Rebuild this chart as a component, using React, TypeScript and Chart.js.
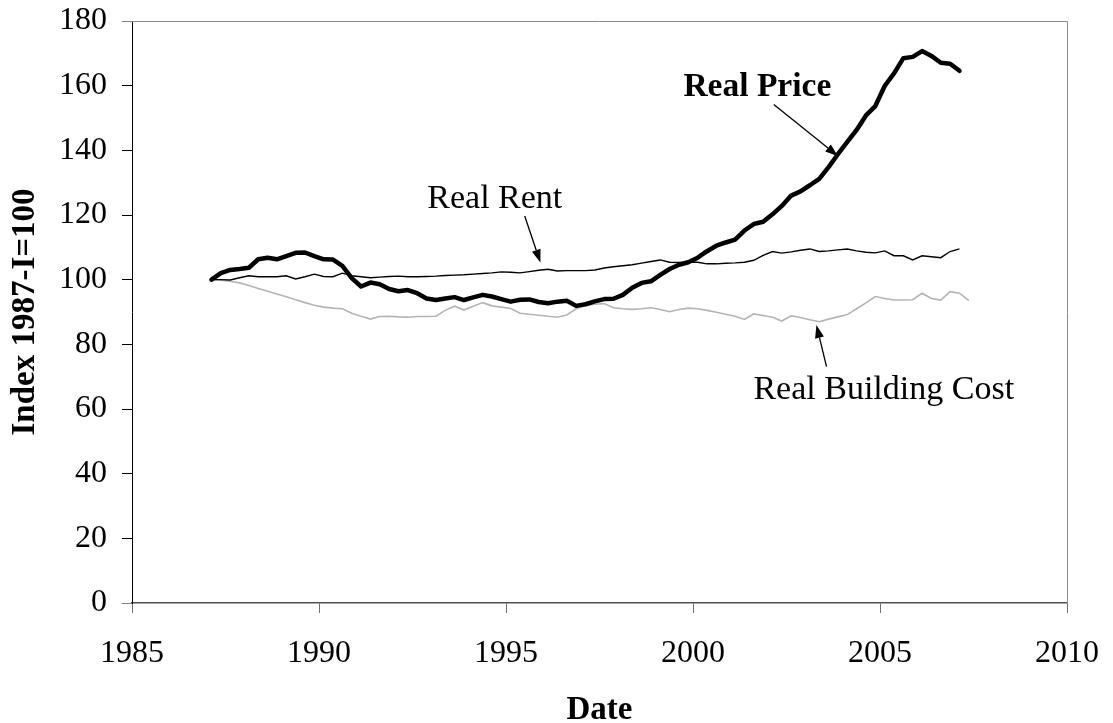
import React, { useEffect, useRef } from "react";
import { Chart, registerables } from "chart.js";

Chart.register(...registerables);

// Quarterly series, first observation is 1987-I (index = 100)
const FIRST_YEAR = 1987;

const X_TICKS = [1985, 1990, 1995, 2000, 2005, 2010];
const Y_TICKS = [0, 20, 40, 60, 80, 100, 120, 140, 160, 180];

const REAL_PRICE = [
  100.0, 102.0, 103.0, 103.3, 103.7, 106.3, 106.8, 106.3, 107.3, 108.3, 108.4, 107.3,
  106.3, 106.2, 104.3, 100.5, 97.9, 99.1, 98.6, 97.1, 96.4, 96.8, 95.8, 94.2,
  93.7, 94.2, 94.6, 93.7, 94.5, 95.3, 94.8, 94.0, 93.2, 93.8, 93.9, 93.1,
  92.7, 93.2, 93.5, 91.9, 92.4, 93.3, 94.0, 94.1, 95.3, 97.5, 99.0, 99.5,
  101.5, 103.3, 104.6, 105.4, 106.8, 108.8, 110.5, 111.5, 112.4, 115.2, 117.2, 117.9,
  120.2, 122.8, 126.0, 127.3, 129.2, 131.2, 134.8, 138.8, 142.6, 146.3, 150.8, 153.7,
  159.9, 163.8, 168.5, 168.9, 170.7, 169.2, 167.1, 166.8, 164.6,
];

const REAL_RENT = [
  100.0, 100.0, 99.9, 100.6, 101.2, 100.9, 100.9, 100.9, 101.2, 100.2, 100.9, 101.7,
  101.0, 100.9, 102.0, 101.2, 100.9, 100.6, 100.8, 101.0, 101.1, 100.9, 100.9, 101.0,
  101.1, 101.3, 101.4, 101.5, 101.7, 101.9, 102.1, 102.4, 102.3, 102.1, 102.5, 102.9,
  103.2, 102.7, 102.8, 102.8, 102.8, 103.0, 103.6, 104.0, 104.3, 104.6, 105.1, 105.6,
  106.1, 105.4, 105.3, 105.4, 105.4, 104.9, 104.9, 105.1, 105.2, 105.4, 106.0, 107.5,
  108.7, 108.2, 108.6, 109.1, 109.5, 108.7, 108.9, 109.2, 109.5, 108.9, 108.5, 108.3,
  108.9, 107.4, 107.4, 106.1, 107.4, 107.1, 106.8, 108.7, 109.5,
];

const REAL_BUILDING_COST = [
  100.0, 99.8, 99.5, 99.0, 98.2, 97.3, 96.4, 95.6, 94.7, 93.8, 92.9, 92.1,
  91.5, 91.2, 91.0, 89.6, 88.7, 87.8, 88.6, 88.7, 88.5, 88.4, 88.6, 88.6,
  88.7, 90.5, 91.8, 90.6, 91.8, 92.9, 91.9, 91.5, 91.1, 89.6, 89.3, 89.0,
  88.7, 88.4, 89.1, 91.0, 92.0, 92.4, 92.6, 91.3, 91.0, 90.8, 91.0, 91.3,
  90.8, 90.1, 90.8, 91.2, 91.0, 90.5, 89.9, 89.3, 88.7, 87.7, 89.4, 88.9,
  88.4, 87.2, 88.8, 88.3, 87.6, 87.0, 87.8, 88.5, 89.2, 91.0, 92.8, 94.8,
  94.2, 93.7, 93.7, 93.8, 95.8, 94.2, 93.7, 96.3, 95.8, 93.5,
];

// Quarter i is plotted at the middle of the quarter
const quarterDate = (i: number) => FIRST_YEAR + (i + 0.5) / 4;
const toPoints = (values: number[]) => values.map((y, i) => ({ x: quarterDate(i), y }));

type Note = {
  text: string;
  bold: boolean;
  tx: number; ty: number; // text centre (data coords)
  x1: number; y1: number; // arrow tail
  x2: number; y2: number; // arrow head
};

const NOTES: Note[] = [
  { text: "Real Price", bold: true, tx: 2001.72, ty: 159.6, x1: 2002.16, y1: 154.2, x2: 2003.88, y2: 138.2 },
  { text: "Real Rent", bold: false, tx: 1994.7, ty: 125.0, x1: 1995.5, y1: 119.7, x2: 1995.92, y2: 105.3 },
  { text: "Real Building Cost", bold: false, tx: 2005.1, ty: 66.0, x1: 2003.57, y1: 73.1, x2: 2003.3, y2: 86.0 },
];

const FONT = "'Liberation Serif', 'Times New Roman', serif";

const notesPlugin = {
  id: "notes",
  afterDatasetsDraw(chart: any) {
    const { ctx, scales } = chart;
    const xs = scales.x;
    const ys = scales.y;
    ctx.save();
    for (const n of NOTES) {
      ctx.fillStyle = "#000";
      ctx.font = n.bold ? `bold 33.5px ${FONT}` : `34px ${FONT}`;
      ctx.textAlign = "center";
      ctx.textBaseline = "middle";
      ctx.fillText(n.text, xs.getPixelForValue(n.tx), ys.getPixelForValue(n.ty));
      const ax = xs.getPixelForValue(n.x1);
      const ay = ys.getPixelForValue(n.y1);
      const bx = xs.getPixelForValue(n.x2);
      const by = ys.getPixelForValue(n.y2);
      const ang = Math.atan2(by - ay, bx - ax);
      const headLen = 13;
      const headW = 4.5;
      const hx = bx - headLen * Math.cos(ang);
      const hy = by - headLen * Math.sin(ang);
      ctx.strokeStyle = "#000";
      ctx.lineWidth = 1.3;
      ctx.beginPath();
      ctx.moveTo(ax, ay);
      ctx.lineTo(hx, hy);
      ctx.stroke();
      ctx.beginPath();
      ctx.moveTo(bx, by);
      ctx.lineTo(hx + headW * Math.sin(ang), hy - headW * Math.cos(ang));
      ctx.lineTo(hx - headW * Math.sin(ang), hy + headW * Math.cos(ang));
      ctx.closePath();
      ctx.fill();
    }
    ctx.restore();
  },
  afterDraw(chart: any) {
    const { ctx, chartArea } = chart;
    const { left, top, right, bottom } = chartArea;
    ctx.save();
    ctx.strokeStyle = "#8c8c8c";
    ctx.lineWidth = 1;
    ctx.beginPath();
    ctx.moveTo(left, Math.round(top) + 0.5);
    ctx.lineTo(Math.round(right) + 0.5, Math.round(top) + 0.5);
    ctx.lineTo(Math.round(right) + 0.5, bottom);
    ctx.stroke();
    ctx.restore();
  },
};

export default function App() {
  const ref = useRef<HTMLCanvasElement | null>(null);

  useEffect(() => {
    document.body.style.margin = "0";
    const canvas = ref.current;
    if (!canvas) return;
    Chart.defaults.font.family = FONT;
    const chart = new Chart(canvas, {
      type: "line",
      data: {
        datasets: [
          {
            label: "Real Price",
            data: toPoints(REAL_PRICE),
            borderColor: "#000",
            borderWidth: 4.5,
            pointRadius: 0,
            tension: 0,
            borderJoinStyle: "round",
            borderCapStyle: "round",
          },
          {
            label: "Real Rent",
            data: toPoints(REAL_RENT),
            borderColor: "#000",
            borderWidth: 1.4,
            pointRadius: 0,
            tension: 0,
          },
          {
            label: "Real Building Cost",
            data: toPoints(REAL_BUILDING_COST),
            borderColor: "#b4b4b4",
            borderWidth: 1.6,
            pointRadius: 0,
            tension: 0,
          },
        ],
      },
      options: {
        responsive: false,
        animation: false,
        devicePixelRatio: 1,
        layout: { padding: { top: 21, right: 46, left: 0, bottom: 0 } },
        plugins: {
          legend: { display: false },
          tooltip: { enabled: false },
        },
        scales: {
          x: {
            type: "linear",
            min: 1985,
            max: 2010,
            afterBuildTicks: (s: any) => {
              s.ticks = X_TICKS.map((v) => ({ value: v }));
            },
            afterFit: (s: any) => {
              s.height = 120;
              s.paddingLeft = 0;
              s.paddingRight = 0;
            },
            ticks: {
              color: "#000",
              font: { size: 32 },
              padding: 21,
              maxRotation: 0,
              callback: (v: any) => String(v),
            },
            grid: {
              display: true,
              drawOnChartArea: false,
              drawTicks: true,
              tickLength: 10,
              color: "#707070",
              lineWidth: 1,
            },
            border: { display: true, color: "#505050", width: 1.5 },
            title: {
              display: true,
              text: "Date",
              color: "#000",
              font: { size: 33, weight: "bold", lineHeight: 1 },
              padding: { top: 0, bottom: -4 },
            },
          },
          y: {
            type: "linear",
            min: 0,
            max: 180,
            afterBuildTicks: (s: any) => {
              s.ticks = Y_TICKS.map((v) => ({ value: v }));
            },
            afterFit: (s: any) => {
              s.width = 132;
              s.paddingTop = 0;
              s.paddingBottom = 0;
            },
            ticks: {
              color: "#000",
              font: { size: 32 },
              padding: 15,
              callback: (v: any) => String(v),
            },
            grid: {
              display: true,
              drawOnChartArea: false,
              drawTicks: true,
              tickLength: 10,
              color: (c: any) =>
                c.tick && (c.tick.value === 0 || c.tick.value === 180) ? "#808080" : "#000",
              lineWidth: 1,
            },
            border: { display: true, color: "#000", width: 1 },
            title: {
              display: true,
              text: "Index 1987-I=100",
              color: "#000",
              font: { size: 33, weight: "bold", lineHeight: 1 },
              padding: { top: 9, bottom: 0 },
            },
          },
        },
      },
      plugins: [notesPlugin],
    });
    return () => chart.destroy();
  }, []);

  return (
    <div style={{ width: 1113, height: 723 }}>
      <canvas ref={ref} width={1113} height={723} style={{ display: "block", width: 1113, height: 723 }} />
    </div>
  );
}
